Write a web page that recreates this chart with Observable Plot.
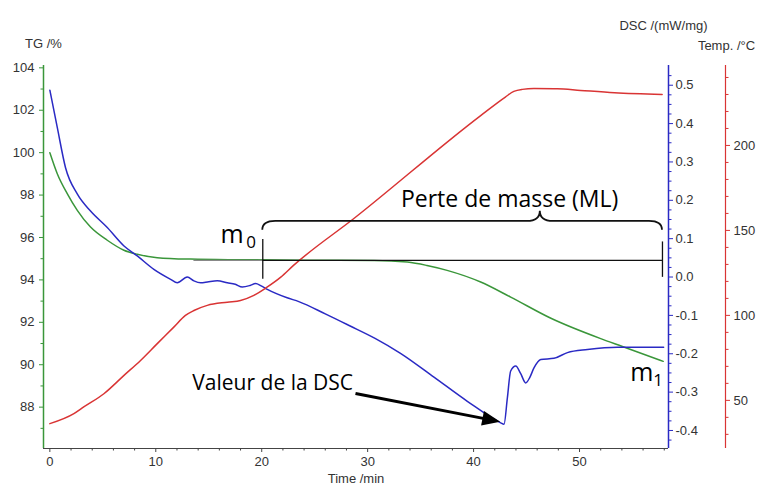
<!DOCTYPE html>
<html><head><meta charset="utf-8">
<script src="https://cdn.jsdelivr.net/npm/d3@7"></script>
<script src="https://cdn.jsdelivr.net/npm/@observablehq/plot@0.6"></script>
<style>html,body{margin:0;padding:0;background:#fff}</style>
</head><body><div id="chart"></div>
<script>
// ---- data ----
const tgTime  = [0, 0.7, 1.64, 2.59, 3.84, 5.42, 6.99, 8.25, 10.14, 13.3, 18, 24, 30.6, 33.75, 35.6, 37.5, 40.67, 43.5, 47.3, 52.0, 54.05, 57.9];
const tgValue = [100.0, 99.01, 98.07, 97.28, 96.49, 95.87, 95.40, 95.21, 95.05, 94.98, 94.95, 94.93, 94.92, 94.84, 94.68, 94.45, 93.9, 93.19, 92.19, 91.23, 90.86, 90.16];

const dscTime  = [0, 0.7, 1.48, 2.6, 3.84, 5.42, 7.0, 8.25, 9.82, 11.4, 12.03, 12.97, 13.6, 14.23, 15.0, 15.8, 16.75, 17.5, 18.17, 18.9, 19.42, 19.95, 20.53, 22.4, 23.5, 26, 28.3, 30.7, 33.1, 36.26, 39.41, 42.56, 42.87, 43.19, 43.5, 43.98, 44.45, 44.92, 45.3, 45.7, 46.34, 47.59, 48.86, 50.75, 53.58, 57.94];
const dscValue = [0.487, 0.39, 0.285, 0.216, 0.172, 0.129, 0.081, 0.055, 0.020, -0.006, -0.015, 0.0, -0.010, -0.015, -0.012, -0.010, -0.015, -0.019, -0.026, -0.022, -0.017, -0.023, -0.032, -0.054, -0.064, -0.096, -0.127, -0.160, -0.199, -0.261, -0.324, -0.380, -0.384, -0.315, -0.245, -0.232, -0.252, -0.276, -0.262, -0.237, -0.215, -0.212, -0.197, -0.189, -0.183, -0.183];

const tempTime  = [0, 2.27, 3.2, 5.1, 7.0, 8.56, 10.14, 11.7, 12.8, 13.6, 14.86, 16.75, 18.0, 19.26, 20.5, 21.8, 23.0, 28.7, 40.67, 43.0, 43.8, 44.6, 45.7, 47.9, 50.1, 53.3, 57.8];
const tempValue = [36.3, 42.2, 46.1, 53.9, 64.7, 73.5, 83.4, 93.1, 100, 102.9, 105.9, 107.8, 108.8, 111.8, 116.6, 122.5, 129.4, 157.0, 217.6, 228.5, 231.8, 233.0, 233.5, 233.4, 232.4, 231.0, 230.0];

// tick values
const timeTicks = [0, 10, 20, 30, 40, 50];
const timeMinor = [2, 4, 6, 8, 12, 14, 16, 18, 22, 24, 26, 28, 32, 34, 36, 38, 42, 44, 46, 48, 52, 54, 56, 58];
const tgTicks = [88, 90, 92, 94, 96, 98, 100, 102, 104];
const tgMinor = [87, 89, 91, 93, 95, 97, 99, 101, 103];
const dscTicks = [-0.4, -0.3, -0.2, -0.1, 0.0, 0.1, 0.2, 0.3, 0.4, 0.5];
const dscMinor = d3.range(-0.425, 0.55, 0.025).filter(v => Math.abs(Math.round(v * 10) - v * 10) > 0.01);
const tempTicks = [50, 100, 150, 200];
const tempMinor = [30, 40, 60, 70, 80, 90, 110, 120, 130, 140, 160, 170, 180, 190, 210, 220, 230, 240];

// annotations (data units: time, TG %)
const massLevel = 94.92;
const m0Time = 20.1, m1Time = 57.83;
const greyStart = 13.6;
const brace = {t0: 20.1, t1: 57.83, tMid: 46.3, level: 96.76, end: 96.34, cusp: 97.24};
const arrowFrom = {t: 28.9, v: 88.62};
const arrowTo = {t: 42.56, v: 87.29};
const centerLabels = [{t: 43.4, v: 97.44, label: "Perte de masse (ML)"}];
const startLabels = [{t: 13.45, v: 88.79, label: "Valeur de la DSC"}];
const mLabels = [{t: 16.1, v: 95.72, label: "m"}, {t: 54.8, v: 89.21, label: "m"}];
const subLabels = [{t: 18.55, v: 95.49, label: "0"}, {t: 56.95, v: 89.02, label: "1"}];

// ---- scales ----
const xDomain = [-0.6, 58.4];
const yDomain = [86.05, 104.11];
const dscToTG = d3.scaleLinear([-0.4, 0.5], [86.90, 103.18]);
const tempToTG = d3.scaleLinear([50, 200], [88.32, 100.34]);

const GREEN = "#3a963a", BLUE = "#2a2ac4", RED = "#d93434", AX = "#444";
const fmt1 = v => (Math.round(v * 10) / 10).toFixed(1);

const tg = tgTime.map((t, i) => ({t, v: tgValue[i]}));
const dsc = dscTime.map((t, i) => ({t, v: dscToTG(dscValue[i])}));
const temp = tempTime.map((t, i) => ({t, v: tempToTG(tempValue[i])}));

function braceMark(index, scales) {
  const x = scales.x, y = scales.y;
  const x0 = x(brace.t0), x1 = x(brace.t1), xm = x(brace.tMid);
  const yl = y(brace.level), ye = y(brace.end), yc = y(brace.cusp);
  const r = 13;
  const d = `M${x0},${ye} Q${x0},${yl} ${x0 + r},${yl} L${xm - r},${yl} Q${xm},${yl} ${xm},${yc} Q${xm},${yl} ${xm + r},${yl} L${x1 - r},${yl} Q${x1},${yl} ${x1},${ye}`;
  return d3.create("svg:path").attr("d", d).attr("fill", "none").attr("stroke", "#111").attr("stroke-width", 1.8).node();
}
function arrowMark(index, scales) {
  const x = scales.x, y = scales.y;
  const ax = x(arrowFrom.t), ay = y(arrowFrom.v), bx = x(arrowTo.t), by = y(arrowTo.v);
  const len = Math.hypot(bx - ax, by - ay), ux = (bx - ax) / len, uy = (by - ay) / len;
  const hl = 18, hw = 7.5;
  const cx = bx - ux * hl, cy = by - uy * hl;
  const g = d3.create("svg:g");
  g.append("line").attr("x1", ax).attr("y1", ay).attr("x2", cx + ux * 2).attr("y2", cy + uy * 2).attr("stroke", "#000").attr("stroke-width", 3);
  g.append("path").attr("d", `M${bx},${by} L${cx - uy * hw},${cy + ux * hw} L${cx + uy * hw},${cy - ux * hw} Z`).attr("fill", "#000");
  return g.node();
}

const ann = {fontFamily: "'Open Sans', sans-serif", fill: "#000", lineAnchor: "bottom"};

const chart = Plot.plot({
  width: 761, height: 489,
  marginLeft: 43, marginRight: 93, marginTop: 65, marginBottom: 41,
  x: {domain: xDomain},
  y: {domain: yDomain},
  style: {fontFamily: "'Liberation Sans', Arial, sans-serif", fontSize: "13px", color: "#333", background: "#fff"},
  marks: [
    // axes lines
    Plot.ruleX([xDomain[0]], {stroke: GREEN, strokeWidth: 1.5}),
    Plot.ruleX([xDomain[1]], {stroke: BLUE, strokeWidth: 1.5}),
    Plot.ruleX([xDomain[1]], {stroke: RED, strokeWidth: 1.2, dx: 57}),
    Plot.ruleY([yDomain[0]], {stroke: AX, strokeWidth: 1.2}),
    // x axis
    Plot.axisX(timeTicks, {tickSize: 4, tickPadding: 4, stroke: AX, fill: "#333", label: null}),
    Plot.axisX(timeMinor, {tickSize: 2.5, stroke: AX, fill: "none", label: null}),
    // TG axis
    Plot.axisY(tgTicks, {anchor: "left", tickSize: 4, tickPadding: 5, stroke: GREEN, fill: "#333", label: null}),
    Plot.axisY(tgMinor, {anchor: "left", tickSize: 2.5, stroke: GREEN, fill: "none", label: null}),
    // DSC axis
    Plot.axisY(dscTicks.map(dscToTG), {anchor: "right", tickSize: 4, tickPadding: 3, stroke: BLUE, fill: "#333", label: null, tickFormat: d => fmt1(dscToTG.invert(d))}),
    Plot.axisY(dscMinor.map(dscToTG), {anchor: "right", tickSize: 2.5, stroke: BLUE, fill: "none", label: null}),
    // Temp axis
    Plot.axisY(tempTicks.map(tempToTG), {anchor: "right", dx: 57, tickSize: 4, tickPadding: 4, stroke: RED, fill: "#333", label: null, tickFormat: d => String(Math.round(tempToTG.invert(d)))}),
    Plot.axisY(tempMinor.map(tempToTG), {anchor: "right", dx: 57, tickSize: 2.5, stroke: RED, fill: "none", label: null}),
    // axis titles
    Plot.text(["TG /%"], {text: d => d, frameAnchor: "top-left", dy: -27, textAnchor: "middle"}),
    Plot.text(["DSC /(mW/mg)"], {text: d => d, frameAnchor: "top-right", dx: -5, dy: -45, textAnchor: "middle"}),
    Plot.text(["Temp. /°C"], {text: d => d, frameAnchor: "top-right", dx: 58, dy: -25, textAnchor: "middle"}),
    Plot.text(["Time /min"], {text: d => d, frameAnchor: "bottom", dy: 34, textAnchor: "middle"}),
    // curves
    Plot.line(tg, {x: "t", y: "v", stroke: GREEN, strokeWidth: 1.5, curve: "monotone-x"}),
    Plot.line(dsc, {x: "t", y: "v", stroke: BLUE, strokeWidth: 1.5, curve: "monotone-x"}),
    Plot.line(temp, {x: "t", y: "v", stroke: RED, strokeWidth: 1.5, curve: "monotone-x"}),
    // annotations
    Plot.ruleY([massLevel], {x1: greyStart, x2: m0Time, stroke: "#888", strokeWidth: 1.3}),
    Plot.ruleY([massLevel], {x1: m0Time, x2: m1Time, stroke: "#111", strokeWidth: 1.3}),
    Plot.ruleX([m0Time], {y1: 94.03, y2: 95.9, stroke: "#111", strokeWidth: 1.3}),
    Plot.ruleX([m1Time], {y1: 94.12, y2: 95.79, stroke: "#111", strokeWidth: 1.3}),
    braceMark,
    arrowMark,
    Plot.text(centerLabels, {x: "t", y: "v", text: "label", textAnchor: "middle", fontSize: 23, ...ann}),
    Plot.text(startLabels, {x: "t", y: "v", text: "label", textAnchor: "start", fontSize: 21, ...ann}),
    Plot.text(mLabels, {x: "t", y: "v", text: "label", textAnchor: "start", fontSize: 25, ...ann}),
    Plot.text(subLabels, {x: "t", y: "v", text: "label", textAnchor: "start", fontSize: 17, ...ann})
  ]
});
document.getElementById("chart").appendChild(chart);
</script>
</body></html>
